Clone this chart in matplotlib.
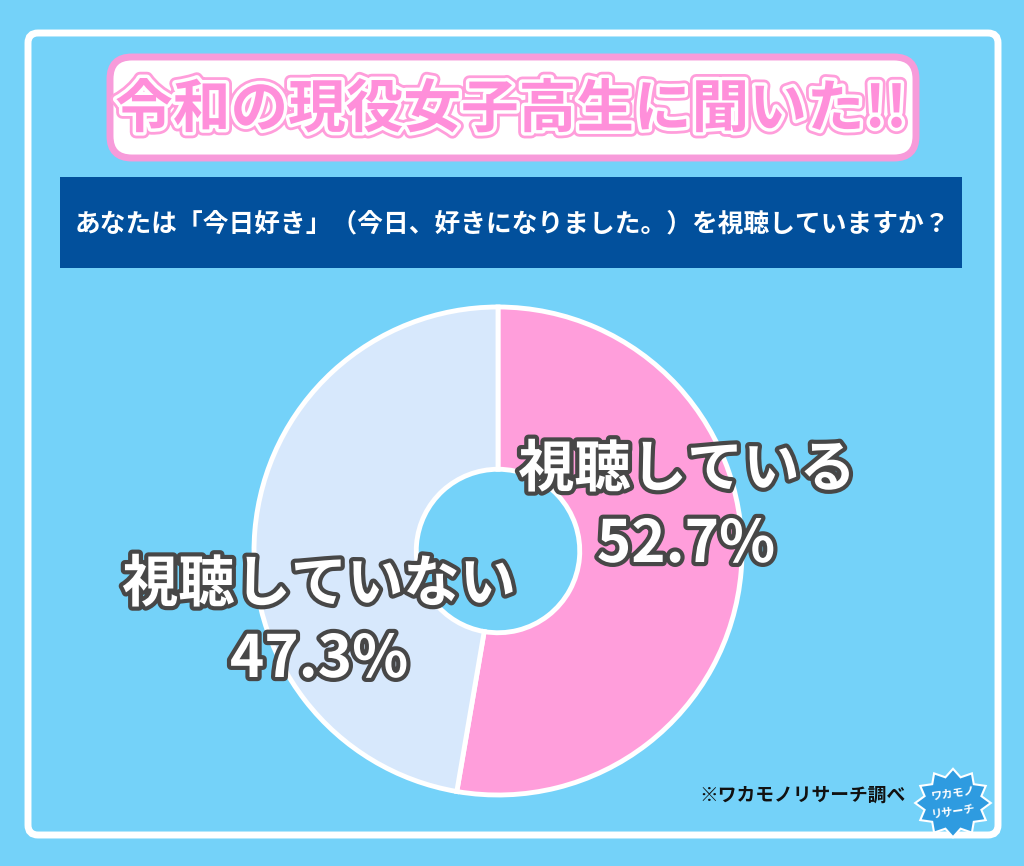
import matplotlib
matplotlib.use("Agg")
import matplotlib.pyplot as plt
from matplotlib.patches import FancyBboxPatch, Rectangle, Polygon
import matplotlib.patheffects as pe
import numpy as np

plt.rcParams['font.family'] = ['Noto Sans CJK JP', 'DejaVu Sans']

# ---- data ----
categories = ["視聴している", "視聴していない"]
values = [52.7, 47.3]
colors = ["#FF9EDB", "#D7E8FC"]
title = "令和の現役女子高生に聞いた!!"
question = "あなたは「今日好き」（今日、好きになりました。）を視聴していますか？"
source = "※ワカモノリサーチ調べ"

W, H = 1024, 866
BG = "#74D2F9"
fig = plt.figure(figsize=(W / 100, H / 100), dpi=100, facecolor=BG)
bg = fig.add_axes([0, 0, 1, 1])
bg.set_xlim(0, W)
bg.set_ylim(H, 0)
bg.axis("off")

# outer white frame
bg.add_patch(FancyBboxPatch((28, 33), 970, 802, boxstyle="round,pad=0,rounding_size=10",
                            facecolor=BG, edgecolor="white", linewidth=5))

# title box
bg.add_patch(FancyBboxPatch((110, 57), 806, 101, boxstyle="round,pad=0,rounding_size=22",
                            facecolor="white", edgecolor="#F79BDA", linewidth=5))
bg.text(511, 110, title, ha="center", va="center", fontsize=41.5, fontweight="bold",
        color="#FF8FDA",
        path_effects=[pe.Stroke(linewidth=9, foreground="#FF9EDB"),
                      pe.Stroke(linewidth=5, foreground="white"), pe.Normal()])

# question banner
bg.add_patch(Rectangle((60, 177), 902, 91, facecolor="#02509C", edgecolor="none"))
bg.text(512, 224, question, ha="center", va="center", fontsize=18.5, fontweight="bold",
        color="white")

# donut
cx, cy, R = 498, 551, 244
pax = fig.add_axes([(cx - R) / W, (H - cy - R) / H, 2 * R / W, 2 * R / H])
pax.pie(values, colors=colors, startangle=90, counterclock=False,
        wedgeprops=dict(width=0.665, edgecolor="white", linewidth=3.5))
pax.set_xlim(-1.0, 1.0)
pax.set_ylim(-1.0, 1.0)
pax.set_aspect("auto")
pax.axis("off")

# overlay for labels, source and logo
top = fig.add_axes([0, 0, 1, 1])
top.set_xlim(0, W)
top.set_ylim(H, 0)
top.axis("off")
top.patch.set_alpha(0)

lab_fx = [pe.Stroke(linewidth=6, foreground="#474747"), pe.Normal()]
top.text(687, 470, categories[0], ha="center", va="center", fontsize=40.5,
         fontweight="bold", color="white", path_effects=lab_fx)
top.text(686, 545, f"{values[0]}%", ha="center", va="center", fontsize=42,
         fontweight="bold", color="white", path_effects=lab_fx)
top.text(319, 585, categories[1], ha="center", va="center", fontsize=40.5,
         fontweight="bold", color="white", path_effects=lab_fx)
top.text(319, 660, f"{values[1]}%", ha="center", va="center", fontsize=42,
         fontweight="bold", color="white", path_effects=lab_fx)

# source
top.text(802, 795, source, ha="center", va="center", fontsize=13.5, fontweight="bold",
         color="#111111")

# simple logo badge
ang = np.linspace(0, 2 * np.pi, 25)[:-1]
rr = np.where(np.arange(24) % 2 == 0, 36, 28)
pts = np.c_[953 + rr * np.cos(ang) * 1.05, 803 + rr * np.sin(ang) * 0.95]
top.add_patch(Polygon(pts, closed=True, facecolor="#2E9BE0", edgecolor="white", linewidth=1.5))
top.text(953, 793, "ワカモノ", ha="center", va="center", fontsize=8, fontweight="bold",
         color="white", rotation=8)
top.text(953, 810, "リサーチ", ha="center", va="center", fontsize=8, fontweight="bold",
         color="white", rotation=8)

fig.savefig("out.png", dpi=100, facecolor=BG)
